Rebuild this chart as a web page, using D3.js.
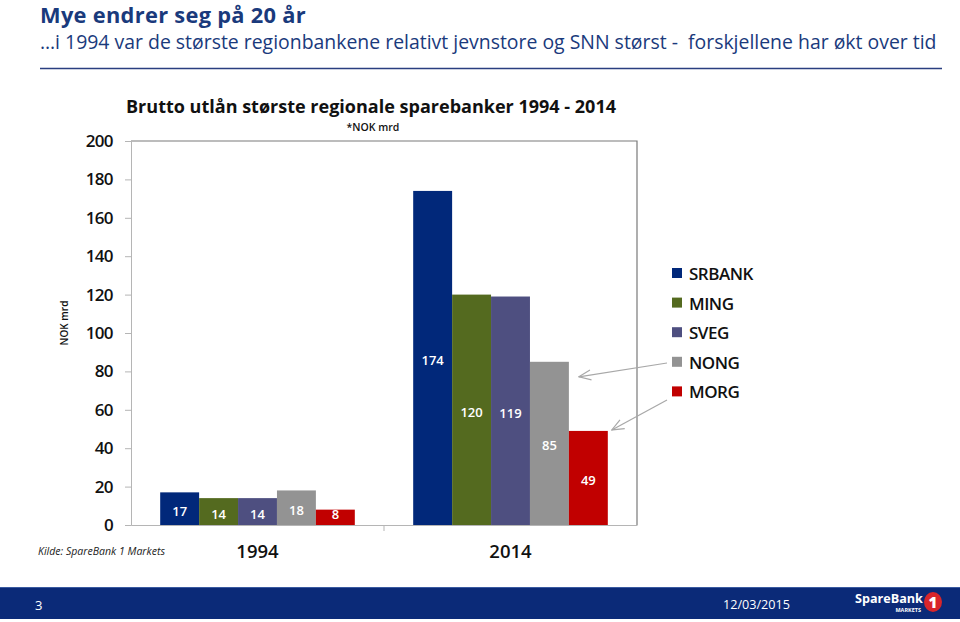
<!DOCTYPE html>
<html><head><meta charset="utf-8">
<script src="https://cdn.jsdelivr.net/npm/d3@7"></script>
<style>
html,body{margin:0;padding:0;background:#fff;}
svg{display:block;font-family:"Open Sans","Noto Sans",sans-serif;}
text{white-space:pre;}
</style></head>
<body>
<script>
const years = ["1994", "2014"];
const banks = ["SRBANK", "MING", "SVEG", "NONG", "MORG"];
const values1994 = [17, 14, 14, 18, 8];
const values2014 = [174, 120, 119, 85, 49];
const colors = ["#01287a", "#546a1f", "#4e4f80", "#939393", "#c10000"];
const yTicks = [0, 20, 40, 60, 80, 100, 120, 140, 160, 180, 200];
const pageTitle = "Mye endrer seg på 20 år";
const pageSubtitle = "…i 1994 var de største regionbankene relativt jevnstore og SNN størst -  forskjellene har økt over tid";
const chartTitle = "Brutto utlån største regionale sparebanker 1994 - 2014";
const chartSubtitle = "*NOK mrd";
const yLabel = "NOK mrd";
const source = "Kilde: SpareBank 1 Markets";
const slideNo = "3";
const slideDate = "12/03/2015";

const W = 960, H = 622;
const svg = d3.select("body").append("svg").attr("width", W).attr("height", H);

function fit(sel, width) {
  const n = sel.node();
  let fs = parseFloat(sel.attr("font-size"));
  const w = n.getComputedTextLength();
  if (w > 0) sel.attr("font-size", (fs * width / w).toFixed(2));
}

// header
const navy = "#1a3a7c";
svg.append("text").attr("x", 40).attr("y", 22.5).attr("font-size", 22).attr("font-weight", 700)
  .attr("letter-spacing", "0.3").attr("fill", navy).text(pageTitle).call(fit, 266);
svg.append("text").attr("x", 40).attr("y", 48.5).attr("font-size", 19)
  .attr("fill", navy).text(pageSubtitle).call(fit, 897);
svg.append("line").attr("x1", 40).attr("x2", 942).attr("y1", 68.5).attr("y2", 68.5)
  .attr("stroke", "#2a3f80").attr("stroke-width", 1.5);

// chart
const m = {left: 131, right: 637, top: 141, bottom: 525};
const y = d3.scaleLinear().domain([0, 200]).range([m.bottom, m.top]);
const x0 = d3.scaleBand().domain(years).range([m.left, m.right]).padding(0);
const x1 = d3.scaleBand().domain(banks).range([0, x0.bandwidth()]).paddingInner(0).paddingOuter(0.75);
const color = d3.scaleOrdinal().domain(banks).range(colors);

const data = years.map((yr, i) => ({
  year: yr,
  vals: banks.map((b, j) => ({bank: b, v: (i === 0 ? values1994 : values2014)[j]}))
}));

// plot border
svg.append("path").attr("d", `M${m.left},${m.top}H${m.right}V${m.bottom}`)
  .attr("fill", "none").attr("stroke", "#7a7a7a").attr("stroke-width", 1.2);

// y axis
const yAxis = svg.append("g").attr("transform", `translate(${m.left},0)`)
  .call(d3.axisLeft(y).tickValues(yTicks).tickSize(6).tickPadding(12));
yAxis.select(".domain").attr("stroke", "#b5b5b5");
yAxis.selectAll(".tick line").attr("stroke", "#b5b5b5");
yAxis.selectAll(".tick text").attr("font-size", 17).attr("font-weight", 600).attr("fill", "#111")
  .attr("font-family", "'Open Sans',sans-serif").attr("letter-spacing", "-0.6");

// x axis
const xAxis = svg.append("g").attr("transform", `translate(0,${m.bottom})`)
  .call(d3.axisBottom(x0).tickSize(0).tickPadding(20));
xAxis.select(".domain").attr("stroke", "#b5b5b5");
xAxis.selectAll(".tick text").attr("font-size", 18.5).attr("font-weight", 600).attr("fill", "#111")
  .attr("font-family", "'Open Sans',sans-serif");
// category divider ticks
svg.append("g").selectAll("line").data(years.slice(1)).join("line")
  .attr("x1", d => x0(d)).attr("x2", d => x0(d)).attr("y1", m.bottom).attr("y2", m.bottom + 6)
  .attr("stroke", "#b5b5b5");

// bars
const groups = svg.append("g").selectAll("g").data(data).join("g")
  .attr("transform", d => `translate(${x0(d.year)},0)`);
groups.selectAll("rect").data(d => d.vals).join("rect")
  .attr("x", d => x1(d.bank)).attr("width", x1.bandwidth())
  .attr("y", d => y(d.v)).attr("height", d => y(0) - y(d.v))
  .attr("fill", d => color(d.bank));
groups.selectAll("text").data(d => d.vals).join("text")
  .attr("x", d => x1(d.bank) + x1.bandwidth() / 2)
  .attr("y", d => Math.min((y(d.v) + y(0)) / 2 + 7, y(0) - 6))
  .attr("text-anchor", "middle").attr("font-size", 13).attr("font-weight", 600)
  .attr("fill", "#fff").text(d => d.v);

// chart titles
svg.append("text").attr("x", 371).attr("y", 113).attr("text-anchor", "middle")
  .attr("font-size", 19).attr("font-weight", 700).attr("fill", "#111").text(chartTitle).call(fit, 490);
svg.append("text").attr("x", 373).attr("y", 131).attr("text-anchor", "middle")
  .attr("font-size", 10.5).attr("font-weight", 600).attr("fill", "#111").text(chartSubtitle);
svg.append("text").attr("transform", "translate(68,323) rotate(-90)").attr("text-anchor", "middle")
  .attr("font-size", 10).attr("font-weight", 600).attr("fill", "#111").text(yLabel);
svg.append("text").attr("x", 38).attr("y", 555).attr("font-size", 10).attr("font-style", "italic")
  .attr("fill", "#222").text(source).call(fit, 127);

// legend
const lg = svg.append("g").attr("transform", "translate(672,274)");
const li = lg.selectAll("g").data(banks).join("g").attr("transform", (d, i) => `translate(0,${i * 29.6})`);
li.append("rect").attr("x", 0).attr("y", -6).attr("width", 10).attr("height", 10).attr("fill", d => color(d));
li.append("text").attr("x", 17).attr("y", 6).attr("font-size", 17).attr("font-weight", 600)
  .attr("letter-spacing", "-0.5").attr("fill", "#111").text(d => d);

// arrows
const defs = svg.append("defs");
defs.append("marker").attr("id", "arr").attr("viewBox", "0 0 14 14").attr("refX", 13).attr("refY", 7)
  .attr("markerWidth", 14).attr("markerHeight", 14).attr("markerUnits", "userSpaceOnUse").attr("orient", "auto")
  .append("path").attr("d", "M1,2 L13,7 L1,12").attr("fill", "none").attr("stroke", "#a8a8a8").attr("stroke-width", 1.2);
const x2014 = x0("2014");
const arrows = [
  {x1: 667, y1: 363, x2: x2014 + x1("NONG") + x1.bandwidth() + 10, y2: y(values2014[3]) + 15},
  {x1: 667, y1: 400, x2: x2014 + x1("MORG") + x1.bandwidth() + 4, y2: y(values2014[4]) - 1}
];
svg.append("g").selectAll("line").data(arrows).join("line")
  .attr("x1", d => d.x1).attr("y1", d => d.y1).attr("x2", d => d.x2).attr("y2", d => d.y2)
  .attr("stroke", "#a8a8a8").attr("stroke-width", 1.2).attr("marker-end", "url(#arr)");

// footer
svg.append("rect").attr("x", 0).attr("y", 587).attr("width", W).attr("height", 32).attr("fill", "#0b2a78");
svg.append("line").attr("x1", 0).attr("x2", W).attr("y1", 587.5).attr("y2", 587.5).attr("stroke", "#3a5aa0");
svg.append("text").attr("x", 35).attr("y", 610).attr("font-size", 13).attr("fill", "#fff").text(slideNo);
svg.append("text").attr("x", 723).attr("y", 609).attr("font-size", 13).attr("fill", "#fff").text(slideDate).call(fit, 67);
svg.append("text").attr("x", 855).attr("y", 603).attr("font-size", 14).attr("font-weight", 700)
  .attr("fill", "#fff").text("SpareBank").call(fit, 68);
svg.append("text").attr("x", 921).attr("y", 612).attr("text-anchor", "end").attr("font-size", 5.5).attr("font-weight", 700)
  .attr("fill", "#fff").text("MARKETS");
svg.append("ellipse").attr("cx", 933).attr("cy", 602).attr("rx", 9).attr("ry", 10).attr("fill", "#d8262b");
svg.append("text").attr("x", 933).attr("y", 608).attr("text-anchor", "middle").attr("font-size", 15).attr("font-weight", 800)
  .attr("fill", "#fff").text("1");
</script>
</body></html>
